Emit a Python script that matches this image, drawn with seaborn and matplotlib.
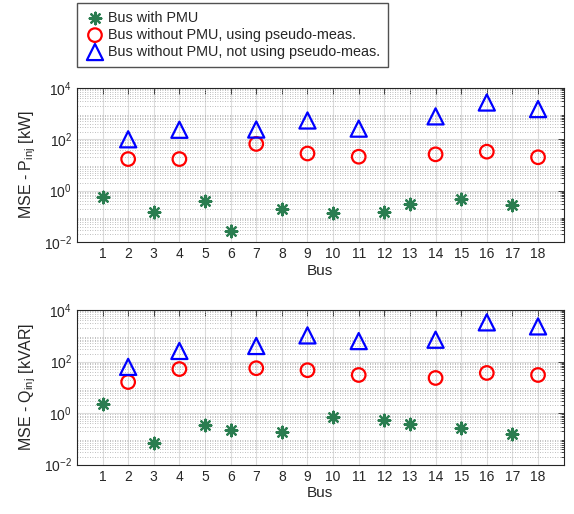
import numpy as np
import pandas as pd
import matplotlib
matplotlib.use('Agg')
import matplotlib.pyplot as plt
import matplotlib.ticker as mticker
import seaborn as sns

# buses and MSE values
buses = list(range(1, 19))
pmu_buses = [1, 3, 5, 6, 8, 10, 12, 13, 15, 17]
nopmu_buses = [2, 4, 7, 9, 11, 14, 16, 18]

p_pmu = [0.58, 0.155, 0.39, 0.027, 0.19, 0.14, 0.155, 0.31, 0.48, 0.29]
p_pseudo = [17, 17, 66, 28, 21, 26, 33, 20]
p_nopseudo = [100, 235, 240, 540, 260, 780, 2700, 1500]

q_pmu = [2.2, 0.068, 0.34, 0.22, 0.18, 0.72, 0.55, 0.38, 0.27, 0.148]
q_pseudo = [16, 51, 55, 46, 30, 23, 36, 30]
q_nopseudo = [62, 257, 400, 1030, 620, 700, 3300, 2300]

labels = ['Bus with PMU',
          'Bus without PMU, using pseudo-meas.',
          'Bus without PMU, not using pseudo-meas.']
green = '#2a7d50'
red = '#ff0000'
blue = '#0000ff'

sns.set_style('white')
plt.rcParams['font.family'] = ['Liberation Sans', 'DejaVu Sans']
plt.rcParams['mathtext.fontset'] = 'custom'
plt.rcParams['mathtext.rm'] = 'Liberation Sans'
plt.rcParams['mathtext.it'] = 'Liberation Sans:italic'
plt.rcParams['mathtext.bf'] = 'Liberation Sans:bold'

fig = plt.figure(figsize=(5.74, 5.14), dpi=100)
ax1 = fig.add_axes([0.134, 0.529, 0.848, 0.300])
ax2 = fig.add_axes([0.134, 0.096, 0.848, 0.301])


def draw_panel(ax, pmu, pseudo, nopseudo, ylabel):
    sns.scatterplot(x=pmu_buses, y=pmu, ax=ax, marker=(8, 2, 0), s=70,
                    color=green, edgecolor=green, linewidth=1.6,
                    label=labels[0], zorder=3)
    sns.scatterplot(x=nopmu_buses, y=pseudo, ax=ax, marker='o', s=95,
                    color=red, facecolor='none', edgecolor=red,
                    linewidth=1.6, label=labels[1], zorder=3)
    sns.scatterplot(x=nopmu_buses, y=nopseudo, ax=ax, marker='^', s=135,
                    color=blue, facecolor='none', edgecolor=blue,
                    linewidth=1.6, label=labels[2], zorder=3)
    ax.set_yscale('log')
    ax.set_ylim(1e-2, 1e4)
    ax.set_xlim(0, 19)
    ax.set_xticks(buses)
    ax.set_xticklabels([str(b) for b in buses])
    ax.yaxis.set_major_locator(mticker.FixedLocator([1e-2, 1, 1e2, 1e4]))
    ax.yaxis.set_minor_locator(mticker.LogLocator(base=10, subs=np.arange(2, 10), numticks=20))
    ax.yaxis.set_minor_formatter(mticker.NullFormatter())
    ax.grid(True, which='major', axis='both', color='#dcdcdc', linewidth=0.8, linestyle='-')
    ax.grid(True, which='minor', axis='y', color='#a8a8a8', linewidth=0.6, linestyle=(0, (1, 2)))
    ax.set_axisbelow(True)
    ax.tick_params(which='both', direction='in', top=True, right=True,
                   labelsize=10, colors='#262626', width=0.6)
    ax.tick_params(which='major', length=4)
    ax.tick_params(which='minor', length=2.5)
    for sp in ax.spines.values():
        sp.set_color('#262626')
        sp.set_linewidth(0.8)
    ax.set_xlabel('Bus', fontsize=11, color='#262626', labelpad=2)
    ax.set_ylabel(ylabel, fontsize=11.5, color='#262626', labelpad=4)
    leg = ax.get_legend()
    if leg is not None:
        leg.remove()


draw_panel(ax1, p_pmu, p_pseudo, p_nopseudo, r'MSE - P$_{\mathrm{inj}}$ [kW]')
draw_panel(ax2, q_pmu, q_pseudo, q_nopseudo, r'MSE - Q$_{\mathrm{inj}}$ [kVAR]')

handles, hlabels = ax1.get_legend_handles_labels()
fig.legend(handles, hlabels, loc='upper left', bbox_to_anchor=(0.134, 0.994),
           frameon=True, fancybox=False, edgecolor='#262626', fontsize=10.4,
           handletextpad=0.2, borderpad=0.55, labelspacing=0.2,
           handlelength=1.4, borderaxespad=0)

fig.savefig('out.png', dpi=100)
